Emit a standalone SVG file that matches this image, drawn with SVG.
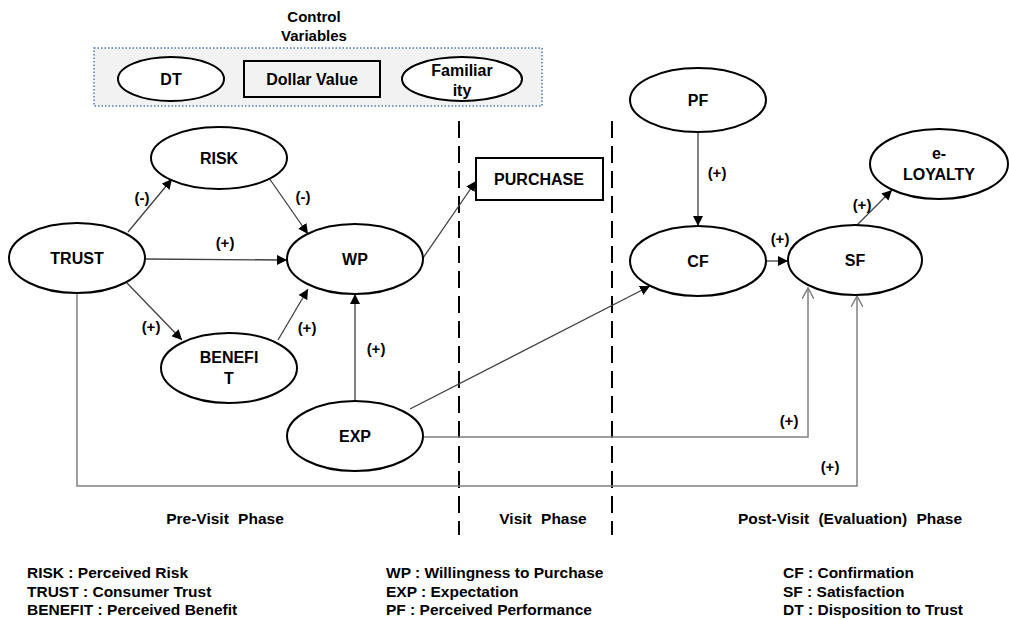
<svg xmlns="http://www.w3.org/2000/svg" width="1009" height="620" viewBox="0 0 1009 620">
<defs>
<style>
.n{fill:#fff;stroke:#000;stroke-width:2}
.t{font-family:"Liberation Sans",Arial,sans-serif;font-weight:bold;font-size:16px;text-anchor:middle;fill:#000}
.l{font-family:"Liberation Sans",Arial,sans-serif;font-weight:bold;font-size:15px;text-anchor:middle;fill:#000}
.p{font-family:"Liberation Sans",Arial,sans-serif;font-weight:bold;font-size:15.5px;text-anchor:middle;fill:#000;word-spacing:5px}
.g{font-family:"Liberation Sans",Arial,sans-serif;font-weight:bold;font-size:15.5px;fill:#000}
.c{fill:none;stroke:#404040;stroke-width:1.3}
.o{fill:none;stroke:#808080;stroke-width:1.5}
.d{stroke:#000;stroke-width:2;stroke-dasharray:17 8}
</style>
<marker id="a" viewBox="0 0 10 10" refX="10" refY="5" markerWidth="10" markerHeight="10" markerUnits="userSpaceOnUse" orient="auto"><path d="M0,0 L10,5 L0,10 z" fill="#000"/></marker>
<marker id="v" viewBox="0 0 12 12" refX="11" refY="6" markerWidth="12" markerHeight="12" markerUnits="userSpaceOnUse" orient="auto"><path d="M0,0 L11,6 L0,12" fill="none" stroke="#808080" stroke-width="1.5"/></marker>
</defs>
<rect width="1009" height="620" fill="#fff"/>

<g id="control-variables">
<rect x="94" y="48" width="448" height="58" fill="#f2f2f2" stroke="#4a7ab0" stroke-width="1.5" stroke-dasharray="1.5 2"/>
<text class="l" x="314" y="22">Control</text>
<text class="l" x="314" y="41">Variables</text>
</g>
<g id="DT"><ellipse class="n" cx="171" cy="79" rx="53" ry="22"/><text class="t" x="171" y="85">DT</text></g>
<g id="dollar-value"><rect x="244" y="61" width="136" height="36" fill="#f2f2f2" stroke="#000" stroke-width="2"/><text class="t" x="312" y="85">Dollar Value</text></g>
<g id="familiarity"><ellipse class="n" cx="462" cy="79" rx="60" ry="22"/><text class="t" x="462" y="76">Familiar</text><text class="t" x="462" y="96">ity</text></g>

<g id="phase-dividers">
<line class="d" x1="459" y1="121" x2="459" y2="535"/>
<line class="d" x1="612" y1="121" x2="612" y2="535"/>
</g>

<g id="connectors">
<line class="c" x1="128" y1="232" x2="172" y2="179" marker-end="url(#a)"/>
<line class="c" x1="269" y1="178" x2="308" y2="234" marker-end="url(#a)"/>
<line class="c" x1="146" y1="259" x2="287" y2="260" marker-end="url(#a)"/>
<line class="c" x1="127" y1="283" x2="182" y2="340" marker-end="url(#a)"/>
<line class="c" x1="278" y1="340" x2="308" y2="289" marker-end="url(#a)"/>
<line class="c" x1="355" y1="401" x2="355" y2="294" marker-end="url(#a)"/>
<line class="c" x1="423" y1="258" x2="476" y2="181" marker-end="url(#a)"/>
<line class="c" x1="410" y1="409" x2="650" y2="286" marker-end="url(#a)"/>
<line class="c" x1="698" y1="132" x2="698" y2="226" marker-end="url(#a)"/>
<line class="c" x1="767" y1="261" x2="788" y2="261" marker-end="url(#a)"/>
<line class="c" x1="857" y1="225" x2="892" y2="190" marker-end="url(#a)"/>
<polyline class="o" points="424,437 808,437 808,288" marker-end="url(#v)"/>
<polyline class="o" points="77,293 77,486 857,486 857,296" marker-end="url(#v)"/>
<text class="l" x="142" y="203">(-)</text>
<text class="l" x="303" y="202">(-)</text>
<text class="l" x="225" y="248">(+)</text>
<text class="l" x="151" y="332">(+)</text>
<text class="l" x="307" y="333">(+)</text>
<text class="l" x="376" y="354">(+)</text>
<text class="l" x="717" y="178">(+)</text>
<text class="l" x="780" y="244">(+)</text>
<text class="l" x="862" y="210">(+)</text>
<text class="l" x="789" y="426">(+)</text>
<text class="l" x="830" y="472">(+)</text>
</g>

<g id="RISK"><ellipse class="n" cx="219" cy="158" rx="68" ry="31"/><text class="t" x="219" y="164">RISK</text></g>
<g id="TRUST"><ellipse class="n" cx="77" cy="258" rx="68" ry="35"/><text class="t" x="77" y="264">TRUST</text></g>
<g id="WP"><ellipse class="n" cx="355" cy="259" rx="68" ry="35"/><text class="t" x="355" y="265">WP</text></g>
<g id="BENEFIT"><ellipse class="n" cx="229" cy="368" rx="68" ry="35"/><text class="t" x="229" y="363">BENEFI</text><text class="t" x="229" y="384">T</text></g>
<g id="EXP"><ellipse class="n" cx="355" cy="436" rx="68" ry="35"/><text class="t" x="355" y="442">EXP</text></g>
<g id="PURCHASE"><rect x="476" y="158" width="127" height="42" fill="#fff" stroke="#000" stroke-width="2"/><text class="t" x="539" y="185">PURCHASE</text></g>
<g id="PF"><ellipse class="n" cx="698" cy="100" rx="68" ry="32"/><text class="t" x="698" y="106">PF</text></g>
<g id="CF"><ellipse class="n" cx="698" cy="261" rx="68" ry="35"/><text class="t" x="698" y="267">CF</text></g>
<g id="SF"><ellipse class="n" cx="855" cy="260" rx="67" ry="35"/><text class="t" x="855" y="266">SF</text></g>
<g id="e-LOYALTY"><ellipse class="n" cx="939" cy="164" rx="69" ry="35"/><text class="t" x="939" y="159">e-</text><text class="t" x="939" y="180">LOYALTY</text></g>

<g id="phase-labels">
<text class="p" x="225" y="524">Pre-Visit Phase</text>
<text class="p" x="543" y="524">Visit Phase</text>
<text class="p" x="850" y="524">Post-Visit (Evaluation) Phase</text>
</g>

<g id="legend">
<text class="g" x="27" y="578">RISK : Perceived Risk</text>
<text class="g" x="27" y="597">TRUST : Consumer Trust</text>
<text class="g" x="27" y="615">BENEFIT : Perceived Benefit</text>
<text class="g" x="386" y="578">WP : Willingness to Purchase</text>
<text class="g" x="386" y="597">EXP : Expectation</text>
<text class="g" x="386" y="615">PF : Perceived Performance</text>
<text class="g" x="783" y="578">CF : Confirmation</text>
<text class="g" x="783" y="597">SF : Satisfaction</text>
<text class="g" x="783" y="615">DT : Disposition to Trust</text>
</g>
</svg>
